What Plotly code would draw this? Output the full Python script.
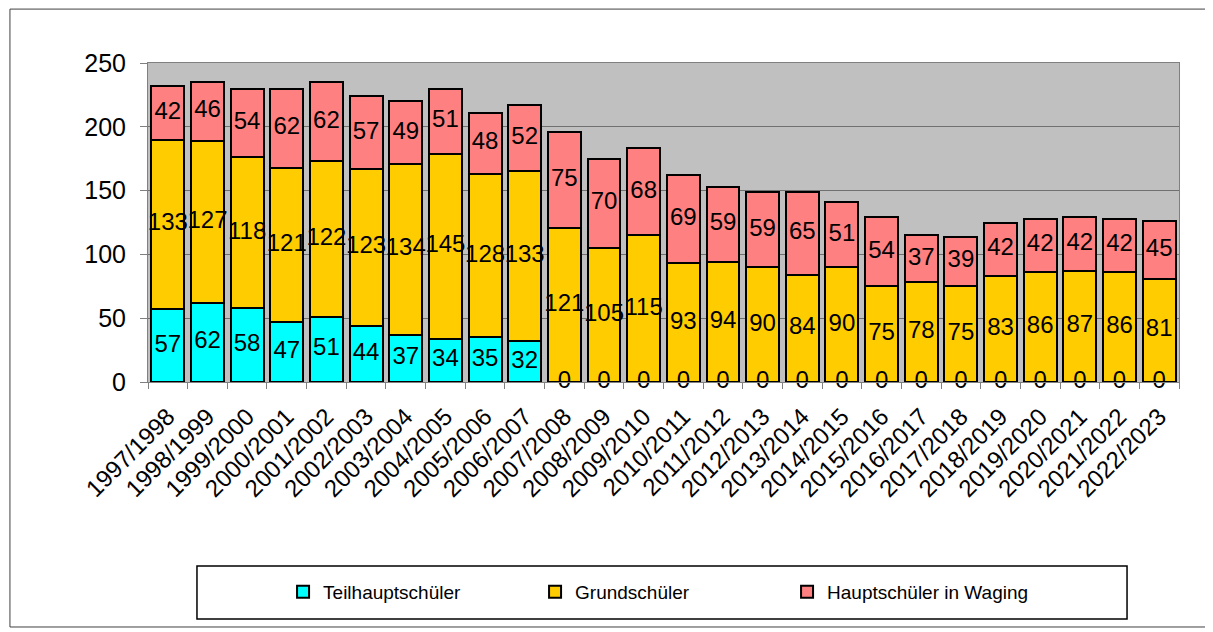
import plotly.graph_objects as go

years = ["1997/1998", "1998/1999", "1999/2000", "2000/2001", "2001/2002", "2002/2003",
         "2003/2004", "2004/2005", "2005/2006", "2006/2007", "2007/2008", "2008/2009",
         "2009/2010", "2010/2011", "2011/2012", "2012/2013", "2013/2014", "2014/2015",
         "2015/2016", "2016/2017", "2017/2018", "2018/2019", "2019/2020", "2020/2021",
         "2021/2022", "2022/2023"]
teil = [57, 62, 58, 47, 51, 44, 37, 34, 35, 32, 0, 0, 0, 0, 0, 0, 0, 0, 0, 0, 0, 0, 0, 0, 0, 0]
grund = [133, 127, 118, 121, 122, 123, 134, 145, 128, 133, 121, 105, 115, 93, 94, 90, 84, 90,
         75, 78, 75, 83, 86, 87, 86, 81]
haupt = [42, 46, 54, 62, 62, 57, 49, 51, 48, 52, 75, 70, 68, 69, 59, 59, 65, 51, 54, 37, 39,
         42, 42, 42, 42, 45]

series = [("Teilhauptschüler", teil, "#00FFFF"),
          ("Grundschüler", grund, "#FFCC00"),
          ("Hauptschüler in Waging", haupt, "#FF8080")]

FONT = "Arial, Liberation Sans, sans-serif"
fig = go.Figure()

base = [0] * len(years)
for name, vals, col in series:
    fig.add_trace(go.Bar(x=years, y=vals, name=name,
                         marker=dict(color=col, line=dict(color="black", width=2)),
                         hoverinfo="y"))
    # value labels centred in each segment (zeros sit on the baseline)
    mids = [b + v / 2 for b, v in zip(base, vals)]
    fig.add_trace(go.Scatter(x=years, y=mids, mode="text", text=[str(v) for v in vals],
                             textfont=dict(family=FONT, size=24, color="black"),
                             showlegend=False, cliponaxis=False, hoverinfo="skip"))
    base = [b + v for b, v in zip(base, vals)]

# page body has an 8px margin, so the figure is 8px smaller than the window
fig.update_layout(
    width=1205, height=624,
    barmode="stack", bargap=0.17,
    plot_bgcolor="#C0C0C0", paper_bgcolor="white",
    margin=dict(l=140, r=34, t=55, b=250),
    font=dict(family=FONT, size=24, color="black"),
    showlegend=True,
    legend=dict(orientation="h", x=0.131, xanchor="left", y=-0.658, yanchor="middle",
                entrywidth=207, font=dict(size=19), bgcolor="rgba(0,0,0,0)",
                traceorder="normal"),
    shapes=[
        dict(type="rect", xref="paper", yref="paper", x0=-0.1339, x1=1.0285, y0=1.169, y1=-0.768,
             line=dict(color="#404040", width=1)),
        dict(type="rect", xref="paper", yref="paper", x0=0.0475, x1=0.9496, y0=-0.577, y1=-0.743,
             line=dict(color="black", width=1.5)),
    ],
)
fig.update_xaxes(type="category", range=[-0.5, len(years) - 0.5], tickangle=-45,
                 showline=True, mirror=True, linecolor="#808080",
                 ticks="outside", tickson="boundaries", ticklen=6, tickcolor="#808080",
                 tickfont=dict(size=24), ticklabelstandoff=10)
fig.update_yaxes(range=[0, 250], dtick=50, showgrid=True, gridcolor="#707070", gridwidth=1,
                 showline=True, mirror=True, linecolor="#808080", ticks="outside", ticklen=7,
                 tickcolor="#808080", tickfont=dict(size=25), ticklabelstandoff=9, zeroline=False)

fig.write_html("out.html")
